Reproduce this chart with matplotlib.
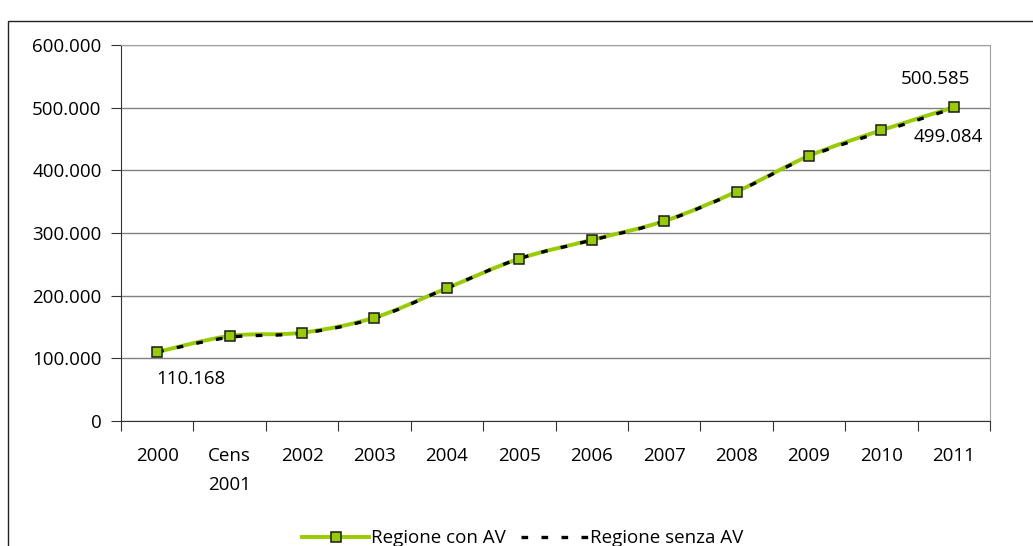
import matplotlib
matplotlib.use("Agg")
from matplotlib import pyplot as plt
from matplotlib.path import Path
from matplotlib.patches import PathPatch, Rectangle
from matplotlib.ticker import FixedLocator, FuncFormatter, NullFormatter

categories = ["2000", "Cens\n2001", "2002", "2003", "2004", "2005", "2006",
              "2007", "2008", "2009", "2010", "2011"]
con_av = [110168, 135700, 141000, 165000, 212000, 259000, 289000,
          319000, 366000, 423000, 464000, 500585]
senza_av = [110168, 133500, 140000, 164000, 212000, 259000, 288500,
            318500, 365500, 422000, 461500, 499084]
y_ticks = [0, 100000, 200000, 300000, 400000, 500000, 600000]

GREEN = "#99CC00"
FS = 13.5
DASH = (0, (2.0, 4.0))
plt.rcParams['font.family'] = ['Open Sans', 'DejaVu Sans']


def smooth_path(xs, ys):
    # Excel style smoothed line: Catmull-Rom turned into cubic Bezier segments
    verts = [(xs[0], ys[0])]
    codes = [Path.MOVETO]
    n = len(xs)
    for i in range(n - 1):
        x0, y0 = (xs[i - 1], ys[i - 1]) if i > 0 else (xs[i], ys[i])
        x1, y1 = xs[i], ys[i]
        x2, y2 = xs[i + 1], ys[i + 1]
        x3, y3 = (xs[i + 2], ys[i + 2]) if i + 2 < n else (x2, y2)
        t = 6.0
        verts += [(x1 + (x2 - x0) / t, y1 + (y2 - y0) / t),
                  (x2 - (x3 - x1) / t, y2 - (y3 - y1) / t),
                  (x2, y2)]
        codes += [Path.CURVE4] * 3
    return Path(verts, codes)


def fmt(v):
    return f"{v:,.0f}".replace(",", ".")


fig = plt.figure(figsize=(10.33, 5.46), dpi=100)
fig.patches.append(Rectangle((8 / 1033, -0.1), 1.2, 1.1 - 22 / 546 + 0.001,
                             transform=fig.transFigure, fill=False,
                             edgecolor="#222222", linewidth=1.0))
ax = fig.add_axes([121 / 1033, 1 - 421 / 546, 869 / 1033, 376 / 546])

xs = list(range(len(categories)))
ax.add_patch(PathPatch(smooth_path(xs, con_av), fill=False,
                       edgecolor=GREEN, linewidth=2.8, zorder=3))
ax.add_patch(PathPatch(smooth_path(xs, senza_av), fill=False,
                       edgecolor="black", linewidth=2.4, linestyle=DASH,
                       zorder=4))
ax.plot(xs, con_av, linestyle="none", marker="s", ms=7, mfc=GREEN,
        mec="#1a1a1a", mew=1.1, zorder=5)

# legend proxies
h1, = ax.plot([], [], color=GREEN, lw=2.8, marker="s", ms=7, mfc=GREEN,
              mec="#1a1a1a", mew=1.1, label="Regione con AV")
h2, = ax.plot([], [], color="black", lw=2.4, linestyle=DASH,
              label="Regione senza AV")
fig.legend(handles=[h1, h2], loc="center", bbox_to_anchor=(0.506, 0.014),
           ncol=2, frameon=False, fontsize=FS, handlelength=3.6,
           handletextpad=0.1, columnspacing=0.8)

ax.set_xlim(-0.5, len(categories) - 0.5)
ax.set_ylim(0, 600000)
ax.yaxis.set_major_locator(FixedLocator(y_ticks))
ax.yaxis.set_major_formatter(FuncFormatter(lambda v, p: fmt(v)))
ax.grid(axis="y", color="#808080", linewidth=1.0)
ax.set_axisbelow(True)

ax.xaxis.set_major_locator(FixedLocator([x - 0.5 for x in xs] + [len(xs) - 0.5]))
ax.xaxis.set_major_formatter(NullFormatter())
ax.xaxis.set_minor_locator(FixedLocator(xs))
ax.xaxis.set_minor_formatter(FuncFormatter(lambda v, p: categories[int(round(v))]))
ax.tick_params(axis="x", which="major", length=7, direction="out", color="#333333")
ax.tick_params(axis="x", which="minor", length=0, pad=19, labelsize=FS)
ax.tick_params(axis="y", length=7, direction="out", color="#333333", labelsize=FS,
               pad=7)
for lab in ax.xaxis.get_minorticklabels():
    lab.set_linespacing(1.75)
    lab.set_verticalalignment("top")

ax.spines["left"].set_color("#333333")
ax.spines["bottom"].set_color("#333333")
ax.spines["top"].set_color("#a0a0a0")
ax.spines["right"].set_color("#a0a0a0")

ax.annotate(fmt(con_av[0]), (xs[0], con_av[0]),
            xytext=(-1, -13), textcoords="offset points", ha="left", va="top",
            fontsize=FS)
ax.annotate(fmt(con_av[-1]), (xs[-1], con_av[-1]),
            xytext=(-13, 14), textcoords="offset points", ha="center", va="bottom",
            fontsize=FS)
ax.annotate(fmt(senza_av[-1]), (xs[-1], senza_av[-1]),
            xytext=(-4, -14), textcoords="offset points", ha="center", va="top",
            fontsize=FS)

fig.savefig("out.png", dpi=100)
